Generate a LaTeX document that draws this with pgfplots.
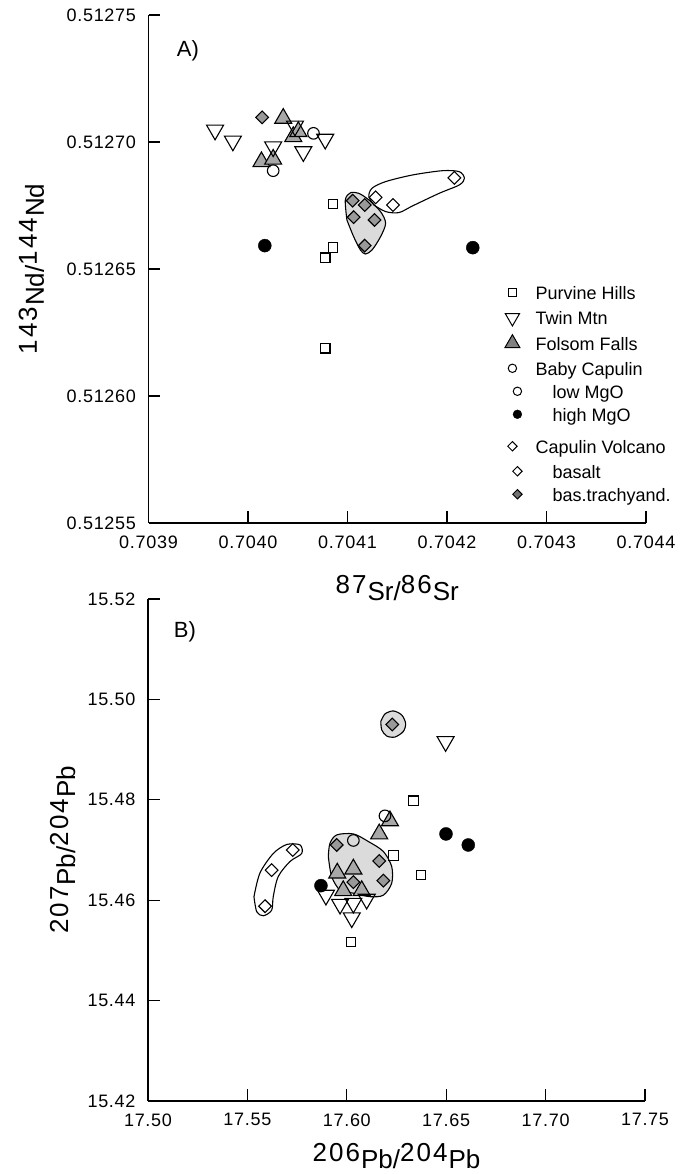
\documentclass[border=0pt]{standalone}
\usepackage{fontspec}
\setmainfont{Liberation Sans}
\newfontfamily\tickfont[LetterSpace=4]{Liberation Sans}
\newfontfamily\labdig[LetterSpace=8]{Liberation Sans}
\usepackage{pgfplots}
\pgfplotsset{compat=1.18}
\definecolor{trigray}{gray}{0.66}
\definecolor{diagray}{gray}{0.6}
\definecolor{blobgray}{gray}{0.86}
\definecolor{lgtri}{gray}{0.5}
\definecolor{lgdia}{gray}{0.45}
\newcommand{\iso}[2]{\raisebox{7pt}{\labdig #1}\kern1pt#2}
\pgfplotsset{
  panel/.style={
    scale only axis,
    axis x line=bottom, axis y line=left,
    axis line style={-, line width=1.2pt},
    tick align=inside,
    major tick length=12pt,
    tick style={line width=1.2pt, black},
    scaled x ticks=false, scaled y ticks=false,
    /pgf/number format/assume math mode=true,
    ticklabel style={font=\tickfont\fontsize{18}{18}\selectfont},
    xticklabel style={yshift=-9pt},
    yticklabel style={xshift=-9pt},
    clip=false,
  },
  purv/.style={only marks, mark=square, mark size=4.8pt, mark options={draw=black, line width=1.1pt}},
  twin/.style={only marks, mark=triangle, mark size=9.8pt, mark options={rotate=180, draw=black, line width=1.1pt}},
  folsom/.style={only marks, mark=triangle*, mark size=9.8pt, mark options={draw=black, fill=trigray, line width=1.1pt}},
  lowmg/.style={only marks, mark=o, mark size=5.8pt, mark options={draw=black, line width=1.1pt}},
  highmg/.style={only marks, mark=*, mark size=6.5pt, mark options={draw=black, fill=black}},
  basalt/.style={only marks, mark=square, mark size=4.5pt, mark options={rotate=45, draw=black, line width=1.1pt}},
  bastr/.style={only marks, mark=square*, mark size=4.5pt, mark options={rotate=45, draw=black, fill=diagray, line width=1.1pt}},
  blob/.style={smooth, no marks, draw=black, line width=1.1pt, fill=blobgray},
  envl/.style={smooth, no marks, draw=black, line width=1.1pt, fill=none},
  lgd/.style 2 args={legend image code/.code={\path (-8pt,0pt) (10pt,0pt); \draw[##1] plot coordinates {(#1,#2)};}},
}
\begin{document}
\begin{tikzpicture}
\path[use as bounding box] (0pt,0pt) rectangle (692pt,1174pt);

% ---------------- Panel A ----------------
\begin{axis}[panel,
  at={(148.5pt,651pt)}, anchor=south west, width=497.5pt, height=508pt,
  xmin=0.7039, xmax=0.7044, ymin=0.51255, ymax=0.51275,
  xtick={0.7039,0.7040,0.7041,0.7042,0.7043,0.7044},
  ytick={0.51255,0.51260,0.51265,0.51270,0.51275},
  xticklabel style={/pgf/number format/.cd, fixed, fixed zerofill, precision=4},
  yticklabel style={/pgf/number format/.cd, fixed, fixed zerofill, precision=5},
  xlabel={\fontsize{26}{26}\selectfont\iso{87}{Sr}/\iso{86}{Sr}},
  ylabel={\fontsize{26}{26}\selectfont\iso{143}{Nd}/\iso{144}{Nd}},
  every axis x label/.style={at={([yshift=-78pt]axis description cs:0.5,0)}, anchor=base},
  every axis y label/.style={at={([xshift=-104.5pt]axis description cs:0,0.5)}, rotate=90, anchor=base},
  legend cell align=left,
  legend style={draw=none, fill=none, inner sep=0pt, row sep=4pt,
    font=\fontsize{18}{18}\selectfont,
    nodes={text height=13pt, text depth=4pt, inner sep=2pt},
    /tikz/every odd column/.append style={column sep=11pt},
    at={(axis description cs:0.7146,0.4695)}, anchor=north west},
]
% envelopes
\addplot[blob, forget plot] coordinates {
 (0.7040994,0.5126693) (0.7040978,0.5126772) (0.7041029,0.5126800) (0.7041113,0.5126798) (0.7041214,0.5126772)
 (0.7041332,0.5126726) (0.7041383,0.5126680) (0.7041332,0.5126627) (0.7041247,0.5126575)
 (0.7041180,0.5126559) (0.7041130,0.5126575) (0.7041062,0.5126627) (0.7040994,0.5126693)};
\addplot[envl, forget plot] coordinates {
 (0.7041265,0.5126752) (0.7041214,0.5126785) (0.7041247,0.5126818) (0.7041383,0.5126844) (0.7041652,0.5126870)
 (0.7041955,0.5126887) (0.7042124,0.5126883) (0.7042175,0.5126857) (0.7042124,0.5126831)
 (0.7041922,0.5126798) (0.7041652,0.5126748) (0.7041517,0.5126722) (0.7041383,0.5126726) (0.7041265,0.5126752)};
% bas. trachyandesite
\addplot[bastr, forget plot] coordinates {
 (0.7040142,0.5127097) (0.7041052,0.5126769) (0.7041173,0.5126752)
 (0.7041062,0.5126704) (0.7041272,0.5126693) (0.7041173,0.5126592)};
% Folsom Falls
\addplot[folsom, forget plot] coordinates {
 (0.7040354,0.5127093) (0.7040455,0.5127021) (0.7040506,0.5127041)
 (0.7040135,0.5126922) (0.7040253,0.5126932)};
% high MgO
\addplot[highmg, forget plot] coordinates {
 (0.7040169,0.5126592) (0.7042259,0.5126584)};
% Purvine Hills
\addplot[purv, forget plot] coordinates {
 (0.7040853,0.5126756) (0.7040853,0.5126584) (0.7040776,0.5126544) (0.7040776,0.5126188)};
% Twin Mtn
\addplot[twin, forget plot] coordinates {
 (0.7039669,0.5127047) (0.7039848,0.5127004) (0.7040472,0.5127063)
 (0.7040776,0.5127011) (0.7040253,0.5126981) (0.7040556,0.5126962)};
% low MgO
\addplot[lowmg, forget plot] coordinates {
 (0.7040658,0.5127034) (0.7040253,0.5126887)};
% basalt
\addplot[basalt, forget plot] coordinates {
 (0.7042074,0.5126859) (0.7041282,0.5126782) (0.7041457,0.5126752)};
% legend
\addlegendimage{only marks, mark=square, mark size=4pt, mark options={draw=black, line width=1pt}, lgd={0pt}{2.5pt}}
\addlegendentry{Purvine Hills}
\addlegendimage{only marks, mark=triangle, mark size=8.3pt, mark options={rotate=180, draw=black, line width=1pt}, lgd={0pt}{2.5pt}}
\addlegendentry{Twin Mtn}
\addlegendimage{only marks, mark=triangle*, mark size=8.6pt, mark options={draw=black, fill=lgtri, line width=1pt}, lgd={0pt}{2.5pt}}
\addlegendentry{Folsom Falls}
\addlegendimage{only marks, mark=o, mark size=4.2pt, mark options={draw=black, line width=1pt}, lgd={0pt}{2.5pt}}
\addlegendentry{Baby Capulin}
\addlegendimage{only marks, mark=o, mark size=4.2pt, mark options={draw=black, line width=1pt}, lgd={5pt}{3.5pt}}
\addlegendentry[text height=11pt]{\hspace*{17pt}low MgO}
\addlegendimage{only marks, mark=*, mark size=4.4pt, mark options={draw=black, fill=black}, lgd={5pt}{3.5pt}}
\addlegendentry[text height=11pt]{\hspace*{17pt}high MgO}
\addlegendimage{only marks, mark=square, mark size=3.3pt, mark options={rotate=45, draw=black, line width=1pt}, lgd={0pt}{-1pt}}
\addlegendentry[text height=20pt]{Capulin Volcano}
\addlegendimage{only marks, mark=square, mark size=3.3pt, mark options={rotate=45, draw=black, line width=1pt}, lgd={5pt}{2.5pt}}
\addlegendentry{\hspace*{17pt}basalt}
\addlegendimage{only marks, mark=square*, mark size=3.3pt, mark options={rotate=45, draw=black, fill=lgdia, line width=1pt}, lgd={5pt}{3.5pt}}
\addlegendentry[text height=11pt]{\hspace*{17pt}bas.trachyand.}
\node[anchor=base west, font=\fontsize{22}{22}\selectfont] at (axis description cs:0.05,0.918) {A)};
\end{axis}

% ---------------- Panel B ----------------
\begin{axis}[panel,
  at={(148pt,73pt)}, anchor=south west, width=497pt, height=502pt,
  xmin=17.50, xmax=17.75, ymin=15.42, ymax=15.52,
  xtick={17.50,17.55,17.60,17.65,17.70,17.75},
  ytick={15.42,15.44,15.46,15.48,15.50,15.52},
  xticklabel style={/pgf/number format/.cd, fixed, fixed zerofill, precision=2},
  yticklabel style={/pgf/number format/.cd, fixed, fixed zerofill, precision=2},
  xlabel={\fontsize{26}{26}\selectfont\iso{206}{Pb}/\iso{204}{Pb}},
  ylabel={\fontsize{26}{26}\selectfont\iso{207}{Pb}/\iso{204}{Pb}},
  every axis x label/.style={at={([yshift=-67pt]axis description cs:0.5,0)}, anchor=base},
  every axis y label/.style={at={([xshift=-73pt]axis description cs:0,0.5)}, rotate=90, anchor=base},
]
\addplot[blob] coordinates {
 (17.6171,15.4956) (17.6192,15.4971) (17.6234,15.4977) (17.6276,15.4969) (17.6296,15.4952) (17.6284,15.4936)
 (17.6242,15.4925) (17.6201,15.4927) (17.6176,15.4939) (17.6171,15.4956)};
\addplot[blob] coordinates {
 (17.5907,15.4687) (17.5915,15.4713) (17.5949,15.4730) (17.6033,15.4732) (17.6108,15.4717) (17.6184,15.4697)
 (17.6226,15.4667) (17.6226,15.4634) (17.6184,15.4610) (17.6117,15.4607) (17.6033,15.4614)
 (17.5966,15.4620) (17.5924,15.4647) (17.5907,15.4687)};
\addplot[envl] coordinates {
 (17.5533,15.4607) (17.5563,15.4654) (17.5630,15.4693) (17.5698,15.4711) (17.5765,15.4710) (17.5773,15.4693)
 (17.5714,15.4677) (17.5655,15.4647) (17.5630,15.4607) (17.5622,15.4580) (17.5580,15.4569)
 (17.5547,15.4577) (17.5533,15.4607)};
\addplot[bastr] coordinates {
 (17.6229,15.4950) (17.5949,15.4710) (17.6163,15.4678) (17.6184,15.4639) (17.6033,15.4636)};
\addplot[folsom] coordinates {
 (17.6217,15.4758) (17.6163,15.4732) (17.5952,15.4654) (17.6033,15.4662) (17.5982,15.4619) (17.6075,15.4619)};
\addplot[highmg] coordinates {
 (17.6499,15.4732) (17.6611,15.4710) (17.5870,15.4629)};
\addplot[purv] coordinates {
 (17.6335,15.4798) (17.6234,15.4689) (17.6373,15.4650) (17.6021,15.4517)};
\addplot[twin] coordinates {
 (17.6497,15.4916) (17.5895,15.4610) (17.5966,15.4592) (17.6033,15.4594) (17.6100,15.4602) (17.6025,15.4565)};
\addplot[lowmg] coordinates {
 (17.6192,15.4768) (17.6033,15.4719)};
\addplot[basalt] coordinates {
 (17.5728,15.4700) (17.5622,15.4660) (17.5589,15.4588)};
\node[anchor=base west, font=\fontsize{22}{22}\selectfont] at (axis description cs:0.045,0.924) {B)};
\end{axis}
\end{tikzpicture}
\end{document}
